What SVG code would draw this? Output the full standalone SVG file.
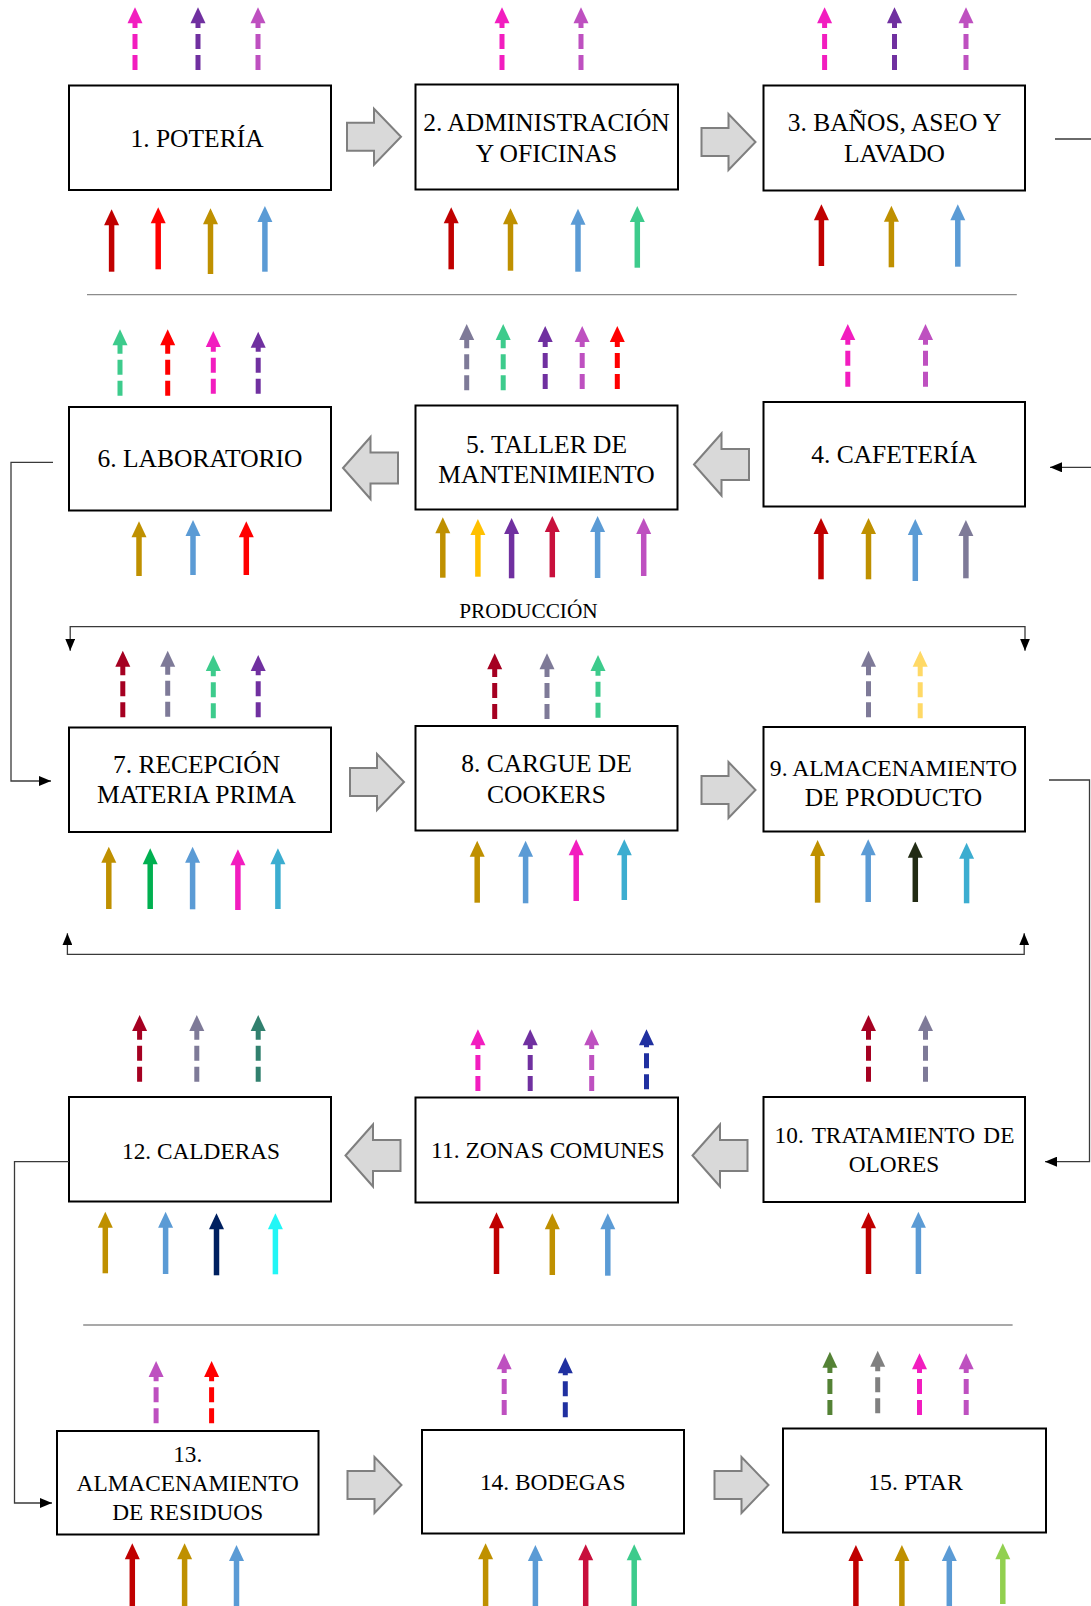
<svg xmlns="http://www.w3.org/2000/svg" xmlns:xlink="http://www.w3.org/1999/xlink" width="1091" height="1606" viewBox="0 0 1091 1606">
<style>
.box{fill:#fff;stroke:#000;stroke-width:2}
.t{font-family:"Liberation Serif","Times New Roman",serif;fill:#000;text-anchor:middle}
.f1{font-size:25.5px}
.f2{font-size:23.4px}
.ar{fill:currentColor}
.ar line{stroke:currentColor;stroke-width:5.5}
.ar.d line{stroke-width:5;stroke-dasharray:15 6}
.blk{fill:#d9d9d9;stroke:#7f7f7f;stroke-width:2}
.cn{fill:none;stroke:#3a3a3a;stroke-width:1.3}
.sep{stroke:#8c8c8c;stroke-width:1.3}
.mag{color:#F21DBF}.pur{color:#7030A0}.orc{color:#BE50C0}.dred{color:#C00000}.red{color:#FF0000}
.gold{color:#BF9000}.blue{color:#5B9BD5}.grn{color:#3DCB8C}.gpur{color:#7E7A98}.amb{color:#FFC000}
.crim{color:#C8103C}.dcrm{color:#A50021}.g2{color:#00B050}.cb{color:#3CADD0}.lgd{color:#FFD966}
.dkg{color:#222B14}.navy{color:#002060}.cyan{color:#22F6F6}.teal{color:#31806E}.dblu{color:#2030A0}
.olv{color:#548235}.gray{color:#808080}.lgrn{color:#92D050}
</style>
<defs>
<path id="hd" d="M0,0L7.5,16L-7.5,16Z"/>
<path id="br" d="M0,14H27V0L54,28L27,56V42H0Z"/>
<path id="bl" d="M0,31L27.5,0V15.5H55V46.5H27.5V62Z"/>
<marker id="m" viewBox="0 0 12 10" refX="12" refY="5" markerWidth="12" markerHeight="10" markerUnits="userSpaceOnUse" orient="auto-start-reverse"><path d="M0,0L12,5L0,10Z" fill="#000"/></marker>
</defs>
<rect width="1091" height="1606" fill="#fff"/>

<g id="separators">
<line class="sep" x1="87" y1="294.7" x2="1016.8" y2="294.7"/>
<line class="sep" x1="83.2" y1="1325" x2="1012.6" y2="1325"/>
</g>

<g id="n1">
<rect class="box" x="69" y="85.5" width="262" height="104.5"/>
<text class="t f1" x="197" y="146.5">1. POTERÍA</text>
<g class="ar d mag"><line x1="135" y1="70" x2="135" y2="22"/><use href="#hd" x="135" y="7.3"/></g>
<g class="ar d pur"><line x1="198" y1="70" x2="198" y2="22"/><use href="#hd" x="198" y="7.3"/></g>
<g class="ar d orc"><line x1="258" y1="70" x2="258" y2="22"/><use href="#hd" x="258" y="7.3"/></g>
<g class="ar dred"><line x1="111.6" y1="271.7" x2="111.6" y2="223"/><use href="#hd" x="111.6" y="209.3"/></g>
<g class="ar red"><line x1="158.2" y1="269.3" x2="158.2" y2="221"/><use href="#hd" x="158.2" y="207.3"/></g>
<g class="ar gold"><line x1="210.5" y1="274" x2="210.5" y2="222"/><use href="#hd" x="210.5" y="208.3"/></g>
<g class="ar blue"><line x1="264.9" y1="271.7" x2="264.9" y2="220"/><use href="#hd" x="264.9" y="206"/></g>
</g>

<g id="n2">
<rect class="box" x="415.5" y="84.5" width="262.5" height="105"/>
<text class="t f1" x="546.5" y="130.5">2. ADMINISTRACIÓN</text>
<text class="t f1" x="546.5" y="161.8">Y OFICINAS</text>
<g class="ar d mag"><line x1="502" y1="70" x2="502" y2="22"/><use href="#hd" x="502" y="7.3"/></g>
<g class="ar d orc"><line x1="581" y1="70" x2="581" y2="22"/><use href="#hd" x="581" y="7.3"/></g>
<g class="ar dred"><line x1="451.2" y1="269.3" x2="451.2" y2="221"/><use href="#hd" x="451.2" y="207.3"/></g>
<g class="ar gold"><line x1="510.5" y1="270.7" x2="510.5" y2="222"/><use href="#hd" x="510.5" y="208.3"/></g>
<g class="ar blue"><line x1="578" y1="271.7" x2="578" y2="222"/><use href="#hd" x="578" y="208.7"/></g>
<g class="ar grn"><line x1="637.3" y1="267.7" x2="637.3" y2="220"/><use href="#hd" x="637.3" y="206"/></g>
</g>

<g id="n3">
<rect class="box" x="763.5" y="85.5" width="261.5" height="105"/>
<text class="t f1" x="894.5" y="131">3. BAÑOS, ASEO Y</text>
<text class="t f1" x="894.5" y="162.3">LAVADO</text>
<g class="ar d mag"><line x1="824.6" y1="70" x2="824.6" y2="22"/><use href="#hd" x="824.6" y="7.3"/></g>
<g class="ar d pur"><line x1="894.5" y1="70" x2="894.5" y2="22"/><use href="#hd" x="894.5" y="7.3"/></g>
<g class="ar d orc"><line x1="966" y1="70" x2="966" y2="22"/><use href="#hd" x="966" y="7.3"/></g>
<g class="ar dred"><line x1="821.4" y1="266" x2="821.4" y2="218"/><use href="#hd" x="821.4" y="204.3"/></g>
<g class="ar gold"><line x1="891.4" y1="267.3" x2="891.4" y2="219"/><use href="#hd" x="891.4" y="205.7"/></g>
<g class="ar blue"><line x1="957.8" y1="266.7" x2="957.8" y2="218"/><use href="#hd" x="957.8" y="204.3"/></g>
</g>

<g id="n4">
<rect class="box" x="763.5" y="402" width="261.5" height="104.5"/>
<text class="t f1" x="894" y="463.3">4. CAFETERÍA</text>
<g class="ar d mag"><line x1="847.8" y1="386.7" x2="847.8" y2="339"/><use href="#hd" x="847.8" y="324"/></g>
<g class="ar d orc"><line x1="925.5" y1="386.7" x2="925.5" y2="339"/><use href="#hd" x="925.5" y="324"/></g>
<g class="ar dred"><line x1="821" y1="579.3" x2="821" y2="532"/><use href="#hd" x="821" y="518"/></g>
<g class="ar gold"><line x1="868.5" y1="579.3" x2="868.5" y2="532"/><use href="#hd" x="868.5" y="518"/></g>
<g class="ar blue"><line x1="915.3" y1="581" x2="915.3" y2="533"/><use href="#hd" x="915.3" y="519"/></g>
<g class="ar gpur"><line x1="965.9" y1="578.3" x2="965.9" y2="534"/><use href="#hd" x="965.9" y="520"/></g>
</g>

<g id="n5">
<rect class="box" x="415.5" y="405.5" width="262" height="104"/>
<text class="t f1" x="546.5" y="452.5">5. TALLER DE</text>
<text class="t f1" x="546.5" y="482.5">MANTENIMIENTO</text>
<g class="ar d gpur"><line x1="466.7" y1="390.3" x2="466.7" y2="339"/><use href="#hd" x="466.7" y="324"/></g>
<g class="ar d grn"><line x1="503.2" y1="390.3" x2="503.2" y2="339"/><use href="#hd" x="503.2" y="324"/></g>
<g class="ar d pur"><line x1="545.2" y1="389" x2="545.2" y2="341"/><use href="#hd" x="545.2" y="326"/></g>
<g class="ar d orc"><line x1="582.2" y1="389" x2="582.2" y2="341"/><use href="#hd" x="582.2" y="326"/></g>
<g class="ar d red"><line x1="617.3" y1="389" x2="617.3" y2="341"/><use href="#hd" x="617.3" y="326"/></g>
<g class="ar gold"><line x1="442.8" y1="577.7" x2="442.8" y2="531"/><use href="#hd" x="442.8" y="517.3"/></g>
<g class="ar amb"><line x1="477.9" y1="576.7" x2="477.9" y2="533"/><use href="#hd" x="477.9" y="519"/></g>
<g class="ar pur"><line x1="511.6" y1="578.3" x2="511.6" y2="532"/><use href="#hd" x="511.6" y="518"/></g>
<g class="ar crim"><line x1="552.3" y1="577.3" x2="552.3" y2="530"/><use href="#hd" x="552.3" y="516"/></g>
<g class="ar blue"><line x1="597.6" y1="578" x2="597.6" y2="530"/><use href="#hd" x="597.6" y="516"/></g>
<g class="ar orc"><line x1="643.7" y1="576" x2="643.7" y2="532"/><use href="#hd" x="643.7" y="518"/></g>
</g>

<g id="n6">
<rect class="box" x="69" y="407" width="262" height="103.5"/>
<text class="t f1" x="200" y="467.3">6. LABORATORIO</text>
<g class="ar d grn"><line x1="120" y1="395.7" x2="120" y2="344"/><use href="#hd" x="120" y="329.3"/></g>
<g class="ar d red"><line x1="167.7" y1="395.7" x2="167.7" y2="344"/><use href="#hd" x="167.7" y="329.3"/></g>
<g class="ar d mag"><line x1="213.3" y1="393.7" x2="213.3" y2="346"/><use href="#hd" x="213.3" y="331"/></g>
<g class="ar d pur"><line x1="258.2" y1="393.7" x2="258.2" y2="346.5"/><use href="#hd" x="258.2" y="331.7"/></g>
<g class="ar gold"><line x1="139" y1="576" x2="139" y2="535"/><use href="#hd" x="139" y="521.3"/></g>
<g class="ar blue"><line x1="193" y1="575" x2="193" y2="534"/><use href="#hd" x="193" y="520"/></g>
<g class="ar red"><line x1="246.3" y1="575" x2="246.3" y2="535"/><use href="#hd" x="246.3" y="521.3"/></g>
</g>

<g id="n7">
<rect class="box" x="69" y="727.5" width="262" height="104.5"/>
<text class="t f1" x="196.5" y="772.7">7. RECEPCIÓN</text>
<text class="t f1" x="196.5" y="803.3">MATERIA PRIMA</text>
<g class="ar d dcrm"><line x1="122.8" y1="717.3" x2="122.8" y2="665.5"/><use href="#hd" x="122.8" y="650.7"/></g>
<g class="ar d gpur"><line x1="167.7" y1="716.7" x2="167.7" y2="665.5"/><use href="#hd" x="167.7" y="650.7"/></g>
<g class="ar d grn"><line x1="213.3" y1="718.3" x2="213.3" y2="670"/><use href="#hd" x="213.3" y="655"/></g>
<g class="ar d pur"><line x1="258.2" y1="717.3" x2="258.2" y2="670"/><use href="#hd" x="258.2" y="655"/></g>
<g class="ar gold"><line x1="108.8" y1="909" x2="108.8" y2="860"/><use href="#hd" x="108.8" y="846.7"/></g>
<g class="ar g2"><line x1="150.2" y1="909" x2="150.2" y2="862"/><use href="#hd" x="150.2" y="848.3"/></g>
<g class="ar blue"><line x1="192.6" y1="909.3" x2="192.6" y2="860"/><use href="#hd" x="192.6" y="846.7"/></g>
<g class="ar mag"><line x1="237.9" y1="910" x2="237.9" y2="863"/><use href="#hd" x="237.9" y="849.3"/></g>
<g class="ar cb"><line x1="277.9" y1="909" x2="277.9" y2="862"/><use href="#hd" x="277.9" y="848.3"/></g>
</g>

<g id="n8">
<rect class="box" x="415.5" y="726" width="262" height="104.5"/>
<text class="t f1" x="546.5" y="771.7">8. CARGUE DE</text>
<text class="t f1" x="546.5" y="802.7">COOKERS</text>
<g class="ar d dcrm"><line x1="494.7" y1="719" x2="494.7" y2="668"/><use href="#hd" x="494.7" y="653.3"/></g>
<g class="ar d gpur"><line x1="547" y1="719" x2="547" y2="668"/><use href="#hd" x="547" y="653.3"/></g>
<g class="ar d grn"><line x1="598" y1="717.7" x2="598" y2="670"/><use href="#hd" x="598" y="655"/></g>
<g class="ar gold"><line x1="477.2" y1="902.7" x2="477.2" y2="854"/><use href="#hd" x="477.2" y="840.7"/></g>
<g class="ar blue"><line x1="525.6" y1="903.3" x2="525.6" y2="854"/><use href="#hd" x="525.6" y="840.7"/></g>
<g class="ar mag"><line x1="576.2" y1="901" x2="576.2" y2="853"/><use href="#hd" x="576.2" y="839.3"/></g>
<g class="ar cb"><line x1="624.3" y1="900" x2="624.3" y2="853"/><use href="#hd" x="624.3" y="839.3"/></g>
</g>

<g id="n9">
<rect class="box" x="763.5" y="727" width="261.5" height="104.5"/>
<text class="t" style="font-size:23.6px" x="893.5" y="775.7">9. ALMACENAMIENTO</text>
<text class="t f1" x="893.5" y="806">DE PRODUCTO</text>
<g class="ar d gpur"><line x1="868.5" y1="717.3" x2="868.5" y2="665.5"/><use href="#hd" x="868.5" y="650.7"/></g>
<g class="ar d lgd"><line x1="920.2" y1="718.3" x2="920.2" y2="665.5"/><use href="#hd" x="920.2" y="650.7"/></g>
<g class="ar gold"><line x1="817.6" y1="902.7" x2="817.6" y2="854"/><use href="#hd" x="817.6" y="840"/></g>
<g class="ar blue"><line x1="868.2" y1="902" x2="868.2" y2="853"/><use href="#hd" x="868.2" y="839.3"/></g>
<g class="ar dkg"><line x1="915.3" y1="902" x2="915.3" y2="855"/><use href="#hd" x="915.3" y="841.7"/></g>
<g class="ar cb"><line x1="966.6" y1="903.3" x2="966.6" y2="856"/><use href="#hd" x="966.6" y="842.7"/></g>
</g>

<g id="n10">
<rect class="box" x="763.5" y="1097" width="261.5" height="105"/>
<text class="t" style="font-size:23.3px;word-spacing:2.5px" x="894.5" y="1143.3">10. TRATAMIENTO DE</text>
<text class="t" style="font-size:23.3px" x="894" y="1171.7">OLORES</text>
<g class="ar d dcrm"><line x1="868.5" y1="1081.7" x2="868.5" y2="1030"/><use href="#hd" x="868.5" y="1015"/></g>
<g class="ar d gpur"><line x1="925.5" y1="1081.7" x2="925.5" y2="1030"/><use href="#hd" x="925.5" y="1015"/></g>
<g class="ar dred"><line x1="868.5" y1="1274" x2="868.5" y2="1226"/><use href="#hd" x="868.5" y="1212.3"/></g>
<g class="ar blue"><line x1="918.4" y1="1274" x2="918.4" y2="1225"/><use href="#hd" x="918.4" y="1211.7"/></g>
</g>

<g id="n11">
<rect class="box" x="415.5" y="1097.5" width="262.5" height="105"/>
<text class="t" style="font-size:23.5px" x="547.8" y="1158.3">11. ZONAS COMUNES</text>
<g class="ar d mag"><line x1="477.9" y1="1091" x2="477.9" y2="1044"/><use href="#hd" x="477.9" y="1029.3"/></g>
<g class="ar d pur"><line x1="530.2" y1="1091" x2="530.2" y2="1044"/><use href="#hd" x="530.2" y="1029.3"/></g>
<g class="ar d orc"><line x1="591.7" y1="1091" x2="591.7" y2="1044"/><use href="#hd" x="591.7" y="1029.3"/></g>
<g class="ar d dblu"><line x1="646.5" y1="1089.3" x2="646.5" y2="1044"/><use href="#hd" x="646.5" y="1029.3"/></g>
<g class="ar dred"><line x1="496.5" y1="1274" x2="496.5" y2="1226"/><use href="#hd" x="496.5" y="1212.3"/></g>
<g class="ar gold"><line x1="552.3" y1="1275" x2="552.3" y2="1227"/><use href="#hd" x="552.3" y="1213.3"/></g>
<g class="ar blue"><line x1="607.8" y1="1275.7" x2="607.8" y2="1227"/><use href="#hd" x="607.8" y="1213.3"/></g>
</g>

<g id="n12">
<rect class="box" x="69" y="1097" width="262" height="104.5"/>
<text class="t" style="font-size:23.3px" x="201" y="1159.3">12. CALDERAS</text>
<g class="ar d dcrm"><line x1="139.6" y1="1081.7" x2="139.6" y2="1030"/><use href="#hd" x="139.6" y="1015"/></g>
<g class="ar d gpur"><line x1="196.8" y1="1081.7" x2="196.8" y2="1030"/><use href="#hd" x="196.8" y="1015"/></g>
<g class="ar d teal"><line x1="258.2" y1="1081.7" x2="258.2" y2="1030"/><use href="#hd" x="258.2" y="1015"/></g>
<g class="ar gold"><line x1="105.3" y1="1273.3" x2="105.3" y2="1225"/><use href="#hd" x="105.3" y="1211.7"/></g>
<g class="ar blue"><line x1="165.6" y1="1274" x2="165.6" y2="1225"/><use href="#hd" x="165.6" y="1211.7"/></g>
<g class="ar navy"><line x1="216.5" y1="1275.3" x2="216.5" y2="1227"/><use href="#hd" x="216.5" y="1213.3"/></g>
<g class="ar cyan"><line x1="275.4" y1="1274.3" x2="275.4" y2="1227"/><use href="#hd" x="275.4" y="1213.3"/></g>
</g>

<g id="n13">
<rect class="box" x="57" y="1431" width="261.5" height="103.5"/>
<text class="t" style="font-size:23.3px" x="187.7" y="1462.3">13.</text>
<text class="t" style="font-size:23.3px" x="187.7" y="1491">ALMACENAMIENTO</text>
<text class="t" style="font-size:23.3px" x="187.7" y="1520">DE RESIDUOS</text>
<g class="ar d orc"><line x1="156.1" y1="1423.3" x2="156.1" y2="1376"/><use href="#hd" x="156.1" y="1361"/></g>
<g class="ar d red"><line x1="211.6" y1="1423.3" x2="211.6" y2="1376"/><use href="#hd" x="211.6" y="1361"/></g>
<g class="ar dred"><line x1="132.3" y1="1608" x2="132.3" y2="1557"/><use href="#hd" x="132.3" y="1543.3"/></g>
<g class="ar gold"><line x1="184.6" y1="1608" x2="184.6" y2="1557"/><use href="#hd" x="184.6" y="1543.3"/></g>
<g class="ar blue"><line x1="236.5" y1="1608" x2="236.5" y2="1559"/><use href="#hd" x="236.5" y="1545"/></g>
</g>

<g id="n14">
<rect class="box" x="422" y="1430" width="262" height="103.5"/>
<text class="t" style="font-size:23.4px" x="552.7" y="1490">14. BODEGAS</text>
<g class="ar d orc"><line x1="504.2" y1="1415" x2="504.2" y2="1368"/><use href="#hd" x="504.2" y="1353.3"/></g>
<g class="ar d dblu"><line x1="565.3" y1="1417.3" x2="565.3" y2="1372"/><use href="#hd" x="565.3" y="1357.3"/></g>
<g class="ar gold"><line x1="485.6" y1="1608" x2="485.6" y2="1557"/><use href="#hd" x="485.6" y="1543.3"/></g>
<g class="ar blue"><line x1="535.4" y1="1608" x2="535.4" y2="1559"/><use href="#hd" x="535.4" y="1545"/></g>
<g class="ar crim"><line x1="585.7" y1="1608" x2="585.7" y2="1558"/><use href="#hd" x="585.7" y="1544.3"/></g>
<g class="ar grn"><line x1="634.2" y1="1608" x2="634.2" y2="1558"/><use href="#hd" x="634.2" y="1544.3"/></g>
</g>

<g id="n15">
<rect class="box" x="783" y="1428.5" width="263" height="104"/>
<text class="t" style="font-size:23.8px" x="915.5" y="1490">15. PTAR</text>
<g class="ar d olv"><line x1="829.9" y1="1415" x2="829.9" y2="1366.5"/><use href="#hd" x="829.9" y="1351.7"/></g>
<g class="ar d gray"><line x1="877.7" y1="1413.3" x2="877.7" y2="1365.5"/><use href="#hd" x="877.7" y="1350.7"/></g>
<g class="ar d mag"><line x1="919.5" y1="1415" x2="919.5" y2="1368"/><use href="#hd" x="919.5" y="1353.3"/></g>
<g class="ar d orc"><line x1="966.2" y1="1415" x2="966.2" y2="1368"/><use href="#hd" x="966.2" y="1353.3"/></g>
<g class="ar dred"><line x1="855.9" y1="1608" x2="855.9" y2="1559"/><use href="#hd" x="855.9" y="1545"/></g>
<g class="ar gold"><line x1="901.9" y1="1608" x2="901.9" y2="1559"/><use href="#hd" x="901.9" y="1545"/></g>
<g class="ar blue"><line x1="949.3" y1="1608" x2="949.3" y2="1559"/><use href="#hd" x="949.3" y="1545"/></g>
<g class="ar lgrn"><line x1="1002.8" y1="1604" x2="1002.8" y2="1557"/><use href="#hd" x="1002.8" y="1543.3"/></g>
</g>

<g id="connectors">
<use href="#br" class="blk" x="347" y="108.7"/>
<use href="#br" class="blk" x="701.5" y="114"/>
<use href="#bl" class="blk" x="694" y="433.5"/>
<use href="#bl" class="blk" x="343" y="437"/>
<use href="#br" class="blk" x="350" y="754"/>
<use href="#br" class="blk" x="701.5" y="762"/>
<use href="#bl" class="blk" x="692.5" y="1124.5"/>
<use href="#bl" class="blk" x="345.5" y="1124.5"/>
<use href="#br" class="blk" x="347.5" y="1457"/>
<use href="#br" class="blk" x="714.5" y="1457"/>
<path class="cn" d="M1055,139H1096V467.3H1050" marker-end="url(#m)"/>
<path class="cn" d="M53,462.3H11V781H51" marker-end="url(#m)"/>
<path class="cn" d="M1049,780H1089.5V1161.7H1045" marker-end="url(#m)"/>
<path class="cn" d="M69,1161.7H14.5V1503H52" marker-end="url(#m)"/>
<path class="cn" d="M70.2,650.7V626.7H1025V650.7" marker-start="url(#m)" marker-end="url(#m)"/>
<path class="cn" d="M67.4,933.3V954.3H1024.2V933.3" marker-start="url(#m)" marker-end="url(#m)"/>
<text class="t" style="font-size:21.3px" x="528.5" y="618">PRODUCCIÓN</text>
</g>
</svg>
